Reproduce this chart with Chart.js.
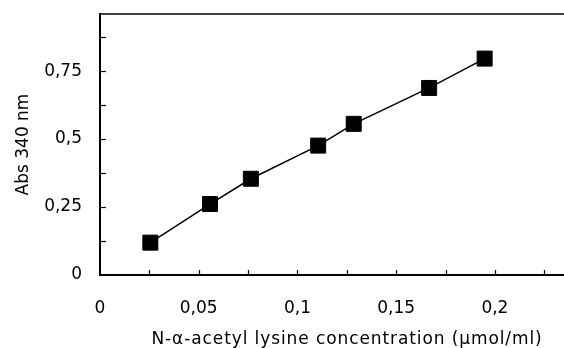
<!DOCTYPE html>
<html>
<head>
<meta charset="utf-8">
<script src="https://cdn.jsdelivr.net/npm/chart.js@4"></script>
<style>
html,body{margin:0;padding:0;background:#fff;}
#wrap{width:564px;height:348px;position:relative;}
</style>
</head>
<body>
<div id="wrap"><canvas id="c" width="564" height="348"></canvas></div>
<script>
// Data
const concentration = [0.0255, 0.0557, 0.0764, 0.1105, 0.1285, 0.1667, 0.1948];
const absorbance    = [0.119, 0.261, 0.354, 0.476, 0.556, 0.688, 0.796];

const xTickValues = [0, 0.05, 0.1, 0.15, 0.2];
const xTickLabels = ['0', '0,05', '0,1', '0,15', '0,2'];
const yTickValues = [0, 0.25, 0.5, 0.75];
const yTickLabels = ['0', '0,25', '0,5', '0,75'];
const xTickMarks = [0.025, 0.05, 0.075, 0.1, 0.125, 0.15, 0.175, 0.2, 0.225];
const yTickMarks = [0.125, 0.25, 0.375, 0.5, 0.625, 0.75, 0.875];

const xTitle = 'N-\u03B1-acetyl lysine concentration (\u03BCmol/ml)';
const yTitle = 'Abs 340 nm';

const FONT = '"DejaVu Sans", sans-serif';

const decor = {
  id: 'decor',
  afterDraw(chart) {
    const ctx = chart.ctx, a = chart.chartArea;
    const xs = chart.scales.x, ys = chart.scales.y;
    ctx.save();
    ctx.strokeStyle = '#000';
    ctx.lineWidth = 1.5;
    // top border
    ctx.beginPath();
    ctx.moveTo(a.left, a.top);
    ctx.lineTo(chart.width, a.top);
    ctx.stroke();
    // inward tick marks
    ctx.lineWidth = 1.2;
    xTickMarks.forEach(v => {
      const px = Math.round(xs.getPixelForValue(v)) + 0.5;
      ctx.beginPath();
      ctx.moveTo(px, a.bottom);
      ctx.lineTo(px, a.bottom - 5);
      ctx.stroke();
    });
    yTickMarks.forEach(v => {
      const py = Math.round(ys.getPixelForValue(v)) + 0.5;
      ctx.beginPath();
      ctx.moveTo(a.left, py);
      ctx.lineTo(a.left + 6, py);
      ctx.stroke();
    });
    // x axis title
    ctx.fillStyle = '#000';
    ctx.font = '17px ' + FONT;
    try { ctx.letterSpacing = '0.9px'; } catch (e) {}
    ctx.textAlign = 'center';
    ctx.textBaseline = 'alphabetic';
    ctx.fillText(xTitle, 347, 344);
    ctx.restore();
  }
};

new Chart(document.getElementById('c'), {
  type: 'scatter',
  data: {
    datasets: [{
      data: concentration.map((x, i) => ({x, y: absorbance[i]})),
      showLine: true,
      borderColor: '#000',
      borderWidth: 1.5,
      backgroundColor: '#000',
      pointStyle: 'rect',
      pointRadius: 10.6,
      pointHoverRadius: 10.6,
      pointBorderWidth: 1,
      pointBorderColor: '#000',
      pointBackgroundColor: '#000'
    }]
  },
  options: {
    responsive: false,
    animation: false,
    events: [],
    layout: { autoPadding: false, padding: { top: 14, right: 0, left: 0, bottom: 0 } },
    plugins: { legend: { display: false }, tooltip: { enabled: false } },
    scales: {
      x: {
        type: 'linear',
        min: 0, max: 0.235,
        afterBuildTicks(s) { s.ticks = xTickValues.map(v => ({value: v})); },
        afterFit(s) { s.height = 73; s.paddingLeft = 0; s.paddingRight = 0; },
        grid: { display: false, drawTicks: false },
        border: { display: true, color: '#000', width: 2 },
        ticks: {
          color: '#000',
          font: { family: FONT, size: 17 },
          padding: 23,
          maxRotation: 0,
          autoSkip: false,
          callback: (v) => { const i = xTickValues.indexOf(v); return i >= 0 ? xTickLabels[i] : ''; }
        },
        title: { display: false }
      },
      y: {
        type: 'linear',
        min: 0, max: 0.96,
        afterBuildTicks(s) { s.ticks = yTickValues.map(v => ({value: v})); },
        afterFit(s) { s.width = 100; s.paddingTop = 0; s.paddingBottom = 0; },
        grid: { display: false, drawTicks: false },
        border: { display: true, color: '#000', width: 2 },
        ticks: {
          color: '#000',
          font: { family: FONT, size: 17 },
          padding: 18,
          autoSkip: false,
          callback: (v) => { const i = yTickValues.indexOf(v); return i >= 0 ? yTickLabels[i] : ''; }
        },
        title: {
          display: true,
          text: yTitle,
          color: '#000',
          font: { family: FONT, size: 17 },
          padding: { top: 13, bottom: 0 }
        }
      }
    }
  },
  plugins: [decor]
});
</script>
</body>
</html>
